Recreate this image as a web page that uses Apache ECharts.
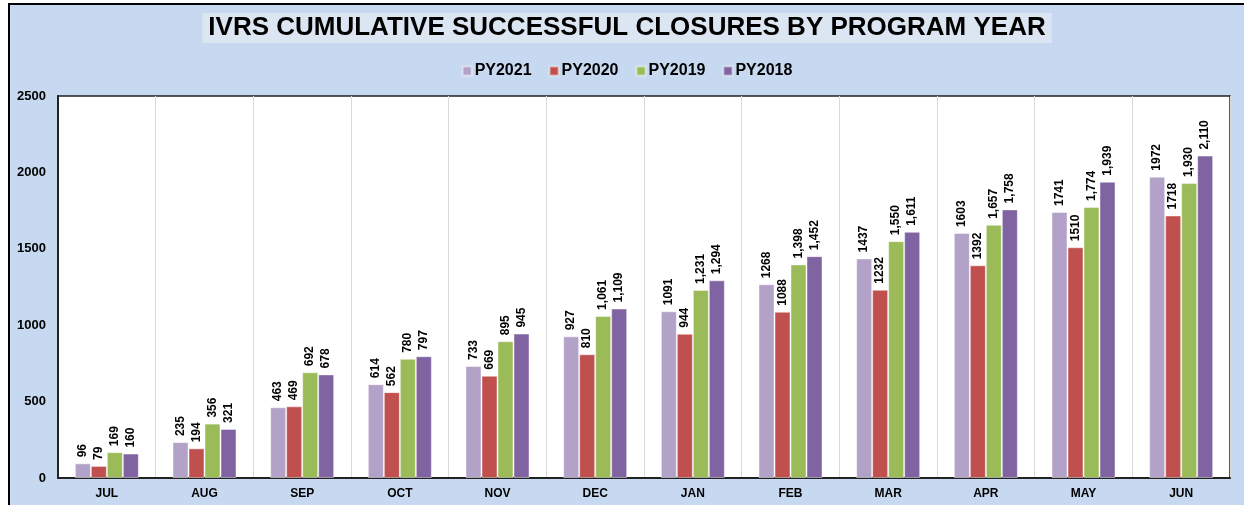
<!DOCTYPE html>
<html>
<head>
<meta charset="utf-8">
<script src="https://cdn.jsdelivr.net/npm/echarts@6/dist/echarts.min.js"></script>
<style>
  html, body { margin: 0; padding: 0; background: #fff; }
  #frame {
    position: absolute; left: 8px; top: 3px; width: 1236px; height: 502px;
    border-top: 2px solid #000; border-left: 2px solid #000; box-sizing: border-box;
    background: #c6d9f0;
  }
  #chart { width: 1234px; height: 500px; }
</style>
</head>
<body>
<div id="frame"><div id="chart"></div></div>
<script>
const months = ["JUL", "AUG", "SEP", "OCT", "NOV", "DEC", "JAN", "FEB", "MAR", "APR", "MAY", "JUN"];
const py2021 = [96, 235, 463, 614, 733, 927, 1091, 1268, 1437, 1603, 1741, 1972];
const py2020 = [79, 194, 469, 562, 669, 810, 944, 1088, 1232, 1392, 1510, 1718];
const py2019 = [169, 356, 692, 780, 895, 1061, 1231, 1398, 1550, 1657, 1774, 1930];
const py2018 = [160, 321, 678, 797, 945, 1109, 1294, 1452, 1611, 1758, 1939, 2110];
const yTicks = [0, 500, 1000, 1500, 2000, 2500];

const font = "Liberation Sans, Arial, sans-serif";

function makeSeries(name, data, color, commas) {
  return {
    name: name,
    type: "bar",
    data: data,
    barWidth: 16,
    barGap: "0%",
    itemStyle: { color: color, borderColor: "rgba(255,255,255,0.45)", borderWidth: 1 },
    label: {
      show: true,
      position: "top",
      rotate: 90,
      align: "left",
      verticalAlign: "middle",
      distance: 6,
      color: "#000",
      fontWeight: "bold",
      fontSize: 12,
      fontFamily: font,
      formatter: (p) => (commas ? p.value.toLocaleString("en-US") : String(p.value)),
    },
  };
}

const chart = echarts.init(document.getElementById("chart"));
chart.setOption({
  animation: false,
  backgroundColor: "#c6d9f0",
  textStyle: { fontFamily: font },
  title: {
    text: "IVRS CUMULATIVE SUCCESSFUL CLOSURES BY PROGRAM YEAR",
    left: "center",
    top: 8,
    padding: [2, 6, 2, 6],
    backgroundColor: "#dce6f2",
    textStyle: { fontSize: 26, fontWeight: "bold", color: "#000", fontFamily: font },
  },
  legend: {
    top: 53,
    left: "center",
    itemWidth: 9,
    itemHeight: 9,
    itemGap: 17,
    icon: "rect",
    textStyle: { fontSize: 16, fontWeight: "bold", color: "#000", padding: [0, 0, 0, -2] },
    data: ["PY2021", "PY2020", "PY2019", "PY2018"],
  },
  grid: {
    left: 48,
    top: 91,
    right: 14,
    bottom: 27,
    show: true,
    backgroundColor: "#fff",
    borderColor: "#222",
    borderWidth: 1.5,
  },
  xAxis: {
    type: "category",
    data: months,
    axisLine: { show: true, lineStyle: { color: "#222", width: 2 } },
    axisTick: { show: false },
    splitLine: { show: true, lineStyle: { color: "#d9d9d9", width: 1 } },
    axisLabel: { color: "#000", fontWeight: "bold", fontSize: 12, margin: 10 },
  },
  yAxis: {
    type: "value",
    min: yTicks[0],
    max: yTicks[yTicks.length - 1],
    interval: yTicks[1] - yTicks[0],
    axisLine: { show: true, lineStyle: { color: "#222", width: 2 } },
    axisTick: { show: false },
    splitLine: { show: false },
    axisLabel: { color: "#000", fontWeight: "bold", fontSize: 13, margin: 12, formatter: (v) => String(v) },
  },
  series: [
    makeSeries("PY2021", py2021, "#b3a2c7", false),
    makeSeries("PY2020", py2020, "#c0504d", false),
    makeSeries("PY2019", py2019, "#9bbb59", true),
    makeSeries("PY2018", py2018, "#8064a2", true),
  ],
});
</script>
</body>
</html>
